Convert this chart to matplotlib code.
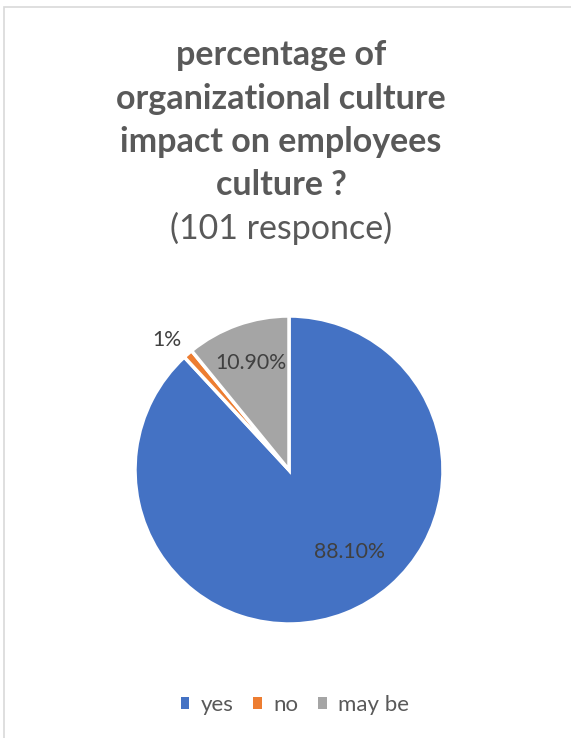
import matplotlib.pyplot as plt
from matplotlib.patches import Rectangle, Patch

# data
categories = ['yes', 'no', 'may be']
values = [88.1, 1.0, 10.9]
value_labels = ['88.10%', '1%', '10.90%']
colors = ['#4472C4', '#ED7D31', '#A5A5A5']

title_lines = ['percentage of', 'organizational culture', 'impact on employees', 'culture ?']
subtitle = '(101 responce)'

text_col = '#595959'
plt.rcParams['font.family'] = ['Lato', 'DejaVu Sans']

W, H = 571, 738
fig = plt.figure(figsize=(W / 100, H / 100), dpi=100)

# light chart border (runs off the right and bottom of the crop)
fig.patches.append(Rectangle((4 / W, -0.1), 1.2, 1 - 7 / H + 0.1, transform=fig.transFigure,
                             fill=False, edgecolor='#D9D9D9', linewidth=1.2))

# title lines
ys = [55, 99, 142, 185]
for line, y in zip(title_lines, ys):
    fig.text(281 / W, 1 - y / H, line, ha='center', va='center', fontsize=24.5,
             fontweight='bold', color=text_col)
fig.text(281 / W, 1 - 228 / H, subtitle, ha='center', va='center', fontsize=24.5, color=text_col)

# pie
cx, cy, r = 289, 470, 154
ax = fig.add_axes([(cx - r) / W, (H - cy - r) / H, 2 * r / W, 2 * r / H])
wedges, _ = ax.pie(values, colors=colors, startangle=90, counterclock=False,
                   wedgeprops=dict(edgecolor='white', linewidth=2.5))
ax.set_xlim(-1, 1)
ax.set_ylim(-1, 1)
ax.set_aspect('equal')

# data labels placed as in the original (best fit)
label_pos = [(0.39, -0.53), (-0.79, 0.845), (-0.25, 0.695)]
for lab, (x, y) in zip(value_labels, label_pos):
    ax.text(x, y, lab, ha='center', va='center', fontsize=15.3, color='#404040')

handles = [Patch(facecolor=c, edgecolor='none') for c in colors]
fig.legend(handles, categories, loc='center', bbox_to_anchor=(295 / W, 1 - 705 / H), ncol=3,
           frameon=False, fontsize=16, handlelength=0.4, handleheight=0.4, handletextpad=0.5,
           columnspacing=0.9, labelcolor=text_col)

fig.savefig('out.png', dpi=100)
